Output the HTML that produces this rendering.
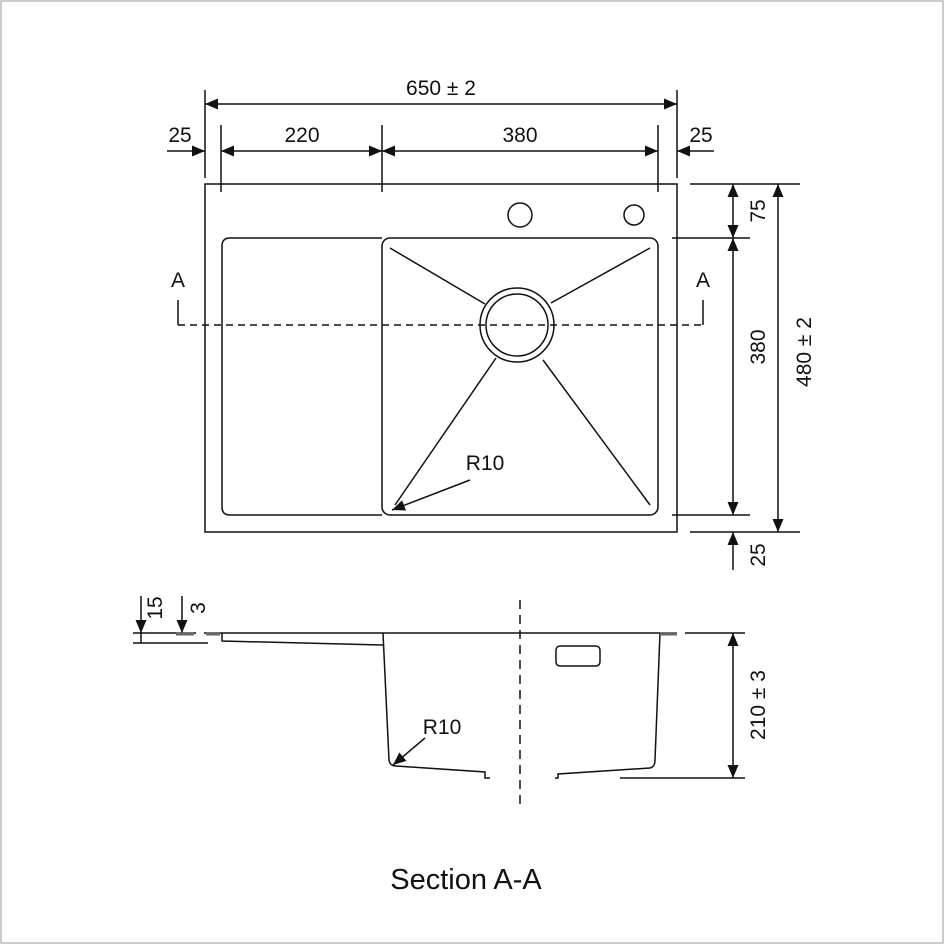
<!DOCTYPE html>
<html><head><meta charset="utf-8"><style>
html,body{margin:0;padding:0;background:#fff}
svg{display:block}
text{font-family:"Liberation Sans",sans-serif;fill:#111}
</style></head><body>
<svg width="945" height="945" viewBox="0 0 945 945" xmlns="http://www.w3.org/2000/svg">
<defs>
<marker id="a" viewBox="0 0 13 11" refX="13" refY="5.5" markerWidth="13" markerHeight="11" markerUnits="userSpaceOnUse" orient="auto-start-reverse"><path d="M0,0 L13,5.5 L0,11 z" fill="#111"/></marker>
</defs>
<rect x="1" y="1" width="942" height="942" fill="none" stroke="#bbb" stroke-width="1.5"/>
<g stroke="#111" stroke-width="1.5" fill="none">
<line x1="205" y1="90" x2="205" y2="178"/>
<line x1="677" y1="90" x2="677" y2="178"/>
<line x1="205" y1="104" x2="677" y2="104" marker-start="url(#a)" marker-end="url(#a)"/>
<line x1="221" y1="125" x2="221" y2="192"/>
<line x1="382" y1="125" x2="382" y2="192"/>
<line x1="658" y1="125" x2="658" y2="192"/>
<line x1="167" y1="151" x2="205" y2="151" marker-end="url(#a)"/>
<line x1="221" y1="151" x2="382" y2="151" marker-start="url(#a)" marker-end="url(#a)"/>
<line x1="382" y1="151" x2="658" y2="151" marker-start="url(#a)" marker-end="url(#a)"/>
<line x1="714" y1="151" x2="677" y2="151" marker-end="url(#a)"/>
<rect x="205" y="184" width="472" height="348"/>
<path d="M382,238 H230 Q222,238 222,246 V507 Q222,515 230,515 H382"/>
<rect x="382" y="238" width="276" height="277" rx="8"/>
<circle cx="520" cy="215" r="12"/>
<circle cx="634" cy="215" r="10"/>
<circle cx="517" cy="325" r="37"/>
<circle cx="517" cy="325" r="31"/>
<line x1="390" y1="248" x2="485" y2="304"/>
<line x1="650" y1="248" x2="551" y2="303"/>
<line x1="395" y1="505" x2="496" y2="358"/>
<line x1="650" y1="505" x2="543" y2="360"/>
<line x1="178" y1="325" x2="703" y2="325" stroke-dasharray="7,5"/>
<line x1="178" y1="300" x2="178" y2="325"/>
<line x1="703" y1="300" x2="703" y2="325"/>
<line x1="470" y1="480" x2="392" y2="510" marker-end="url(#a)"/>
<line x1="690" y1="184" x2="800" y2="184"/>
<line x1="672" y1="238" x2="750" y2="238"/>
<line x1="672" y1="515" x2="750" y2="515"/>
<line x1="690" y1="532" x2="800" y2="532"/>
<line x1="733" y1="184" x2="733" y2="238" marker-start="url(#a)" marker-end="url(#a)"/>
<line x1="733" y1="238" x2="733" y2="515" marker-start="url(#a)" marker-end="url(#a)"/>
<line x1="733" y1="570" x2="733" y2="532" marker-end="url(#a)"/>
<line x1="778" y1="184" x2="778" y2="532" marker-start="url(#a)" marker-end="url(#a)"/>
<line x1="204" y1="633" x2="677" y2="633"/>
<path d="M222,633 V641 L383,645"/>
<path d="M383,633 L389,760 Q390,766 396,766 L485,772 V778 H490"/>
<path d="M555,778 H558 V774 L650,768 Q655,767 655,760 L660,633"/>
<rect x="556" y="646" width="44" height="20" rx="4"/>
<line x1="520" y1="600" x2="520" y2="810" stroke-dasharray="9,6"/>
<line x1="620" y1="778" x2="745" y2="778"/>
<line x1="685" y1="633" x2="745" y2="633"/>
<line x1="733" y1="633" x2="733" y2="778" marker-start="url(#a)" marker-end="url(#a)"/>
<line x1="133" y1="633" x2="196" y2="633"/>
<line x1="133" y1="643" x2="208" y2="643"/>
<line x1="141" y1="596" x2="141" y2="633" marker-end="url(#a)"/>
<line x1="141" y1="633" x2="141" y2="643"/>
<line x1="182" y1="596" x2="182" y2="633" marker-end="url(#a)"/>
<line x1="425" y1="738" x2="393" y2="765" marker-end="url(#a)"/>
</g>
<g stroke="#666" stroke-width="3">
<line x1="176" y1="634" x2="194" y2="634"/>
<line x1="206" y1="634" x2="220" y2="634"/>
<line x1="660" y1="634" x2="677" y2="634"/>
</g>
<g font-size="21">
<text x="441" y="95" text-anchor="middle">650 ± 2</text>
<text x="180" y="142" text-anchor="middle">25</text>
<text x="302" y="142" text-anchor="middle">220</text>
<text x="520" y="142" text-anchor="middle">380</text>
<text x="701" y="142" text-anchor="middle">25</text>
<text x="178" y="287" text-anchor="middle">A</text>
<text x="703" y="287" text-anchor="middle">A</text>
<text x="485" y="470" text-anchor="middle">R10</text>
<text x="442" y="734" text-anchor="middle">R10</text>
<text transform="translate(765,211) rotate(-90)" text-anchor="middle">75</text>
<text transform="translate(765,347) rotate(-90)" text-anchor="middle">380</text>
<text transform="translate(811,352) rotate(-90)" text-anchor="middle">480 ± 2</text>
<text transform="translate(765,555) rotate(-90)" text-anchor="middle">25</text>
<text transform="translate(765,705) rotate(-90)" text-anchor="middle">210 ± 3</text>
<text transform="translate(162,608) rotate(-90)" text-anchor="middle">15</text>
<text transform="translate(205,608) rotate(-90)" text-anchor="middle">3</text>
</g>
<text x="466" y="889" font-size="29" text-anchor="middle">Section A-A</text>
</svg>
</body></html>
